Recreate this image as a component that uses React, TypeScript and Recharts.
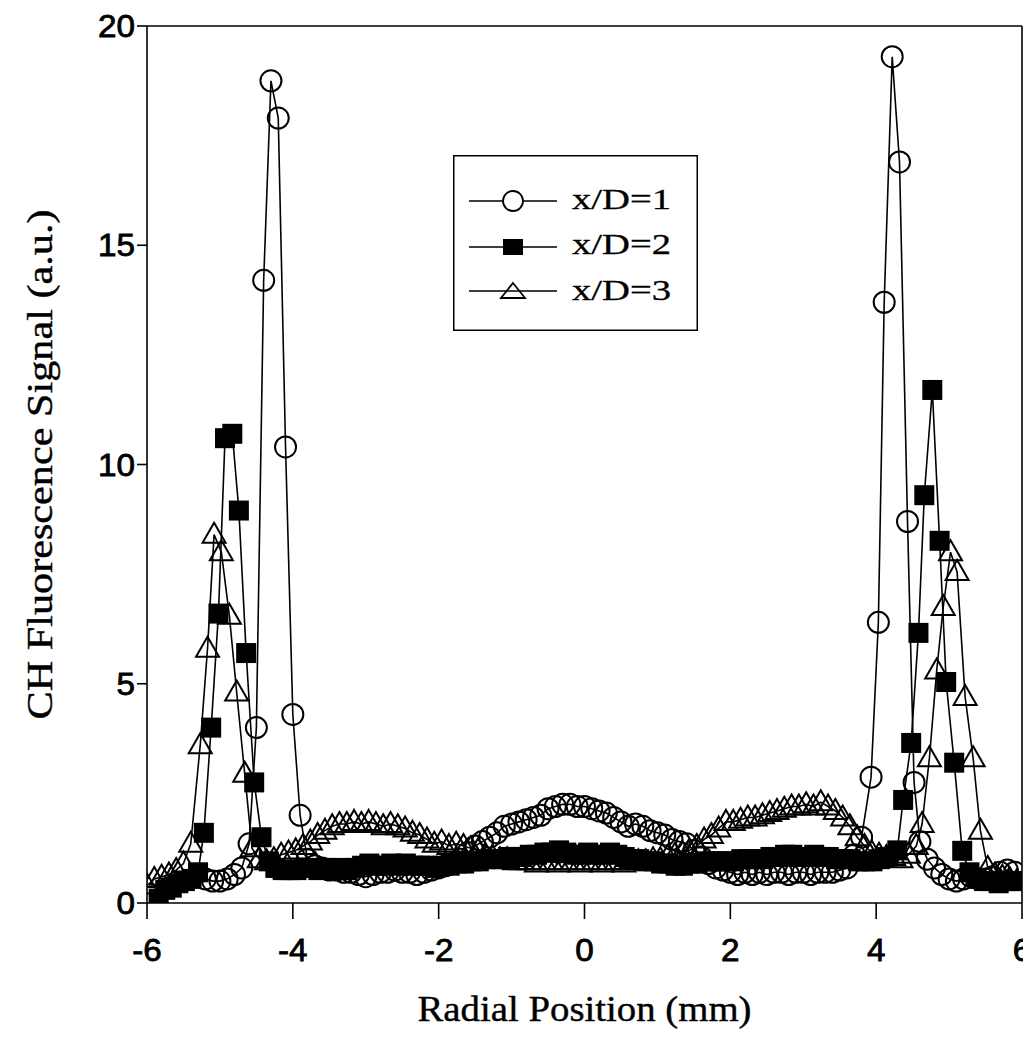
import React from "react";
import { LineChart, Line, XAxis, YAxis, ReferenceLine, Label } from "recharts";

// ---- data (radial position in mm, CH fluorescence signal in a.u.) ----
const pos1 = [
  -5.2, -5.1, -5.0, -4.9, -4.8, -4.7, -4.6, -4.5, -4.4, -4.3, -4.2, -4.1, -4.0, -3.9, -3.8, -3.7, -3.6, -3.5, -3.4, -3.3,
  -3.2, -3.1, -3.0, -2.9, -2.8, -2.7, -2.6, -2.5, -2.4, -2.3, -2.2, -2.1, -2.0, -1.9, -1.8, -1.7, -1.6, -1.5, -1.4, -1.3,
  -1.2, -1.1, -1.0, -0.9, -0.8, -0.7, -0.6, -0.5, -0.4, -0.3, -0.2, -0.1, 0.0, 0.1, 0.2, 0.3, 0.4, 0.5, 0.6, 0.7,
  0.8, 0.9, 1.0, 1.1, 1.2, 1.3, 1.4, 1.5, 1.6, 1.7, 1.8, 1.9, 2.0, 2.1, 2.2, 2.3, 2.4, 2.5, 2.6, 2.7,
  2.8, 2.9, 3.0, 3.1, 3.2, 3.3, 3.4, 3.5, 3.6, 3.7, 3.8, 3.93, 4.03, 4.11, 4.22, 4.32, 4.43, 4.52, 4.6, 4.7,
  4.8, 4.9, 5.0, 5.1, 5.2, 5.3, 5.4, 5.5, 5.6, 5.7, 5.8, 5.9,
];
const sig1 = [
  0.55, 0.5, 0.5, 0.55, 0.65, 0.8, 1.35, 4.0, 14.2, 18.75, 17.9, 10.4, 4.3, 2.0, 1.0, 0.85, 0.8, 0.75, 0.75, 0.7,
  0.7, 0.65, 0.6, 0.65, 0.7, 0.7, 0.75, 0.7, 0.7, 0.65, 0.7, 0.75, 0.8, 0.85, 0.9, 1.0, 1.15, 1.3, 1.4, 1.5,
  1.6, 1.75, 1.8, 1.85, 1.9, 1.95, 2.0, 2.15, 2.2, 2.25, 2.25, 2.2, 2.2, 2.15, 2.1, 2.05, 1.95, 1.85, 1.75, 1.8,
  1.75, 1.65, 1.6, 1.55, 1.45, 1.4, 1.35, 1.2, 1.05, 0.9, 0.8, 0.75, 0.7, 0.65, 0.7, 0.65, 0.7, 0.65, 0.7, 0.7,
  0.65, 0.7, 0.7, 0.65, 0.7, 0.7, 0.7, 0.75, 0.8, 1.1, 1.5, 2.87, 6.4, 13.7, 19.3, 16.9, 8.7, 2.75, 1.4, 1.0,
  0.8, 0.65, 0.55, 0.5, 0.55, 0.6, 0.55, 0.55, 0.6, 0.7, 0.75, 0.7,
];

const pos2 = [
  -5.84, -5.75, -5.66, -5.57, -5.48, -5.39, -5.3, -5.22, -5.12, -5.02, -4.93, -4.83, -4.74, -4.64, -4.53, -4.43, -4.33, -4.24, -4.14, -4.05,
  -3.95, -3.85, -3.75, -3.65, -3.55, -3.45, -3.35, -3.25, -3.15, -3.05, -2.95, -2.85, -2.75, -2.65, -2.55, -2.45, -2.35, -2.25, -2.15, -2.05,
  -1.95, -1.85, -1.75, -1.65, -1.55, -1.45, -1.35, -1.25, -1.15, -1.05, -0.95, -0.85, -0.75, -0.65, -0.55, -0.45, -0.35, -0.25, -0.15, -0.05,
  0.05, 0.15, 0.25, 0.35, 0.45, 0.55, 0.65, 0.75, 0.85, 0.95, 1.05, 1.15, 1.25, 1.35, 1.45, 1.55, 1.65, 1.75, 1.85, 1.95,
  2.05, 2.15, 2.25, 2.35, 2.45, 2.55, 2.65, 2.75, 2.85, 2.95, 3.05, 3.15, 3.25, 3.35, 3.45, 3.55, 3.65, 3.75, 3.85, 3.95,
  4.05, 4.15, 4.29, 4.37, 4.48, 4.58, 4.66, 4.77, 4.87, 4.96, 5.07, 5.18, 5.28, 5.38, 5.48, 5.58, 5.68, 5.78, 5.88, 5.98,
];
const sig2 = [
  0.1, 0.3, 0.35, 0.45, 0.5, 0.55, 0.7, 1.6, 4.0, 6.6, 10.6, 10.7, 8.95, 5.7, 2.75, 1.5, 0.95, 0.8, 0.75, 0.75,
  0.75, 0.8, 0.8, 0.75, 0.8, 0.75, 0.8, 0.75, 0.8, 0.85, 0.9, 0.85, 0.85, 0.9, 0.85, 0.9, 0.85, 0.85, 0.85, 0.8,
  0.85, 0.85, 0.9, 0.9, 0.95, 0.95, 1.0, 1.0, 1.0, 1.05, 1.05, 1.05, 1.1, 1.1, 1.15, 1.15, 1.2, 1.15, 1.1, 1.1,
  1.15, 1.1, 1.1, 1.15, 1.1, 1.05, 1.0, 1.0, 0.95, 0.95, 0.9, 0.9, 0.85, 0.85, 0.9, 0.9, 0.95, 0.95, 0.95, 0.95,
  0.95, 1.0, 1.0, 1.0, 1.0, 1.05, 1.05, 1.1, 1.1, 1.05, 1.05, 1.1, 1.05, 1.05, 1.0, 1.0, 1.0, 0.95, 0.95, 0.95,
  1.0, 1.05, 1.2, 2.35, 3.65, 6.16, 9.3, 11.7, 8.26, 5.04, 3.2, 1.19, 0.7, 0.55, 0.5, 0.5, 0.45, 0.5, 0.5, 0.5,
];

const pos3 = [
  -6.0, -5.9, -5.8, -5.7, -5.6, -5.5, -5.4, -5.27, -5.17, -5.08, -4.98, -4.87, -4.77, -4.66, -4.56, -4.46, -4.36, -4.26, -4.16, -4.06,
  -3.96, -3.86, -3.76, -3.66, -3.56, -3.46, -3.36, -3.26, -3.16, -3.06, -2.96, -2.86, -2.76, -2.66, -2.56, -2.46, -2.36, -2.26, -2.16, -2.06,
  -1.96, -1.86, -1.76, -1.66, -1.56, -1.46, -1.36, -1.26, -1.16, -1.06, -0.96, -0.86, -0.76, -0.66, -0.56, -0.46, -0.36, -0.26, -0.16, -0.06,
  0.04, 0.14, 0.24, 0.34, 0.44, 0.54, 0.64, 0.74, 0.84, 0.94, 1.04, 1.14, 1.24, 1.34, 1.44, 1.54, 1.64, 1.74, 1.84, 1.94,
  2.04, 2.14, 2.24, 2.34, 2.44, 2.54, 2.64, 2.74, 2.84, 2.94, 3.04, 3.14, 3.24, 3.34, 3.44, 3.54, 3.64, 3.74, 3.84, 3.94,
  4.04, 4.14, 4.24, 4.34, 4.44, 4.55, 4.63, 4.73, 4.83, 4.92, 5.02, 5.11, 5.22, 5.33, 5.43, 5.53, 5.63, 5.73, 5.83, 5.93,
];
const sig3 = [
  0.4, 0.55, 0.6, 0.65, 0.75, 0.9, 1.35, 3.6, 5.8, 8.4, 8.0, 6.55, 4.8, 2.95, 1.25, 1.0, 0.95, 1.0, 1.1, 1.15,
  1.2, 1.3, 1.4, 1.55, 1.65, 1.75, 1.8, 1.8, 1.85, 1.8, 1.85, 1.8, 1.75, 1.8, 1.75, 1.7, 1.6, 1.55, 1.45, 1.35,
  1.4, 1.3, 1.35, 1.3, 1.25, 1.2, 1.1, 1.05, 1.0, 1.0, 0.95, 0.95, 0.95, 0.9, 0.95, 0.95, 0.9, 0.95, 0.95, 0.9,
  0.95, 0.95, 0.9, 0.95, 0.95, 0.9, 0.95, 0.95, 0.95, 1.0, 1.0, 1.05, 1.1, 1.15, 1.2, 1.3, 1.45, 1.55, 1.7, 1.85,
  1.85, 1.9, 1.95, 1.95, 2.0, 2.05, 2.1, 2.15, 2.2, 2.2, 2.25, 2.2, 2.3, 2.2, 2.1, 1.95, 1.75, 1.5, 1.3, 1.15,
  1.1, 1.05, 1.05, 1.0, 1.1, 1.3, 1.8, 3.3, 5.3, 6.75, 8.0, 7.55, 4.7, 3.3, 1.65, 0.8, 0.65, 0.6, 0.55, 0.5,
];

const xTicks = [-6, -4, -2, 0, 2, 4, 6];
const yTicks = [0, 5, 10, 15, 20];
const seriesNames = ["x/D=1", "x/D=2", "x/D=3"];
const xTitle = "Radial Position (mm)";
const yTitle = "CH Fluorescence Signal (a.u.)";

const toPoints = (xs: number[], ys: number[]) => xs.map((x, i) => ({ x, y: ys[i] }));
const data1 = toPoints(pos1, sig1);
const data2 = toPoints(pos2, sig2);
const data3 = toPoints(pos3, sig3);

const SERIF = "'Liberation Serif', 'Times New Roman', serif";
const SANS = "'Liberation Sans', Arial, sans-serif";

const circleDot = (p: any) =>
  p.cx == null ? null : (
    <circle key={`c${p.index}`} cx={p.cx} cy={p.cy} r={10.5} fill="none" stroke="#000" strokeWidth={2} />
  );
const squareDot = (p: any) =>
  p.cx == null ? null : <rect key={`s${p.index}`} x={p.cx - 10} y={p.cy - 10} width={20} height={20} fill="#000" />;
const triangleDot = (p: any) =>
  p.cx == null ? null : (
    <path
      key={`t${p.index}`}
      d={`M${p.cx},${p.cy - 12} L${p.cx + 11.5},${p.cy + 8} L${p.cx - 11.5},${p.cy + 8} Z`}
      fill="none"
      stroke="#000"
      strokeWidth={2}
      strokeLinejoin="miter"
    />
  );

const labelWidth = (s: string) => s.split("").reduce((a, c) => a + (c === "-" ? 11 : 18.5), 0);

const XTick = (p: any) => {
  const s = String(p.payload.value);
  return (
    <text x={p.x} y={p.y} dy={40} textAnchor="middle" fontFamily={SANS} fontSize={31} fill="#000"
      stroke="#000" strokeWidth={0.8} textLength={labelWidth(s)} lengthAdjust="spacingAndGlyphs">
      {s}
    </text>
  );
};
const YTick = (p: any) => {
  const s = String(p.payload.value);
  return (
    <text x={p.x} y={p.y} dy={11} textAnchor="end" fontFamily={SANS} fontSize={31} fill="#000"
      stroke="#000" strokeWidth={0.8} textLength={labelWidth(s)} lengthAdjust="spacingAndGlyphs">
      {s}
    </text>
  );
};

const XTitle = (p: any) => {
  const vb = p.viewBox;
  return (
    <text x={vb.x + vb.width / 2} y={vb.y + 118} textAnchor="middle" fontFamily={SERIF} fontSize={36} fill="#000"
      stroke="#000" strokeWidth={0.4} textLength={334} lengthAdjust="spacingAndGlyphs">
      {xTitle}
    </text>
  );
};
const YTitle = (p: any) => {
  const vb = p.viewBox;
  const cx = vb.x - 7;
  const cy = vb.y + vb.height / 2;
  return (
    <text x={cx} y={cy} transform={`rotate(-90, ${cx}, ${cy})`} textAnchor="middle" dominantBaseline="central"
      fontFamily={SERIF} fontSize={36} fill="#000" stroke="#000" strokeWidth={0.4} textLength={510}
      lengthAdjust="spacingAndGlyphs">
      {yTitle}
    </text>
  );
};

const LegendBox = () => {
  const rows = [46, 92, 136];
  const base = [54, 99, 145];
  return (
    <svg width={246} height={178} style={{ position: "absolute", left: 445, top: 147 }}>
      <rect x={0.75} y={0.75} width={243.5} height={174.5} fill="#fff" stroke="#000" strokeWidth={1.5} />
      {rows.map((cy, i) => (
        <g key={i}>
          <line x1={16} x2={104} y1={cy} y2={cy} stroke="#000" strokeWidth={1.5} />
          {i === 0 && <circle cx={60} cy={cy} r={10} fill="#fff" stroke="#000" strokeWidth={1.8} />}
          {i === 1 && <rect x={50} y={cy - 8} width={20} height={16} fill="#000" />}
          {i === 2 && (
            <path d={`M60,${cy - 8} L72,${cy + 7} L48,${cy + 7} Z`} fill="none" stroke="#000" strokeWidth={1.8} />
          )}
          <text x={119} y={base[i]} fontFamily={SERIF} fontSize={30} fill="#000" stroke="#000" strokeWidth={0.3}
            textLength={99} lengthAdjust="spacingAndGlyphs">
            {seriesNames[i]}
          </text>
        </g>
      ))}
    </svg>
  );
};

export default function App() {
  return (
    <div style={{ position: "relative", width: 1023, height: 1032, background: "#fff" }}>
      <LineChart width={1023} height={1032} margin={{ top: 18, right: 9, bottom: 37, left: 39 }}>
        <XAxis
          type="number"
          dataKey="x"
          domain={[-6, 6]}
          ticks={xTicks}
          allowDataOverflow
          height={100}
          tickSize={16}
          tickMargin={2}
          tick={XTick}
          axisLine={{ stroke: "#000", strokeWidth: 1.6 }}
          tickLine={{ stroke: "#000", strokeWidth: 1.6 }}
        >
          <Label content={XTitle} />
        </XAxis>
        <YAxis
          type="number"
          dataKey="y"
          domain={[0, 20]}
          ticks={yTicks}
          allowDataOverflow
          width={100}
          tickSize={10}
          tickMargin={2}
          tick={YTick}
          axisLine={{ stroke: "#000", strokeWidth: 1.6 }}
          tickLine={{ stroke: "#000", strokeWidth: 1.6 }}
        >
          <Label content={YTitle} />
        </YAxis>
        <ReferenceLine y={20} stroke="#000" strokeWidth={1.6} />
        <ReferenceLine x={6} stroke="#000" strokeWidth={1.6} />
        <Line data={data1} dataKey="y" type="linear" stroke="#000" strokeWidth={1.6} dot={circleDot}
          isAnimationActive={false} name={seriesNames[0]} />
        <Line data={data2} dataKey="y" type="linear" stroke="#000" strokeWidth={1.6} dot={squareDot}
          isAnimationActive={false} name={seriesNames[1]} />
        <Line data={data3} dataKey="y" type="linear" stroke="#000" strokeWidth={1.6} dot={triangleDot}
          isAnimationActive={false} name={seriesNames[2]} />
      </LineChart>
      <LegendBox />
    </div>
  );
}
